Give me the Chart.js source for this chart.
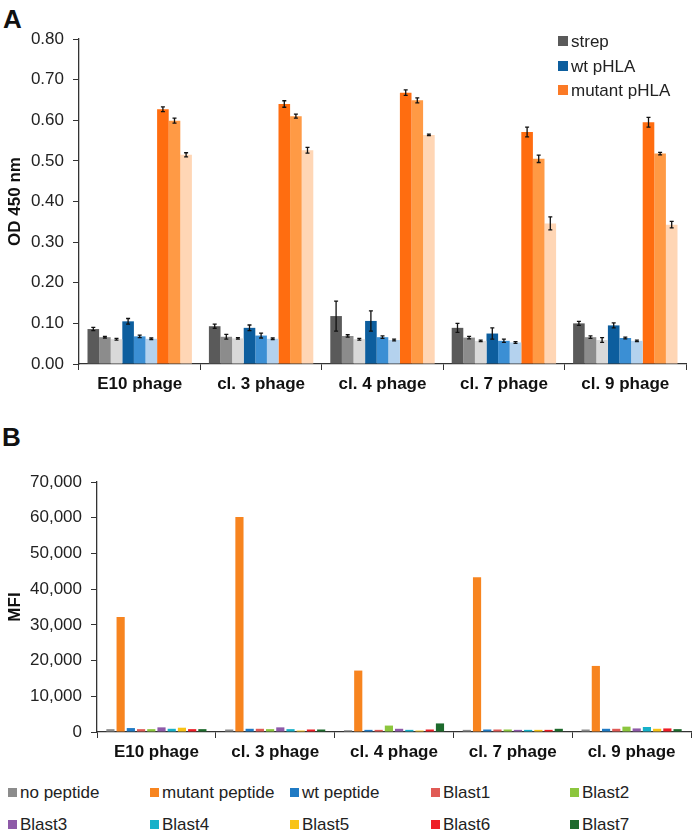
<!DOCTYPE html>
<html>
<head>
<meta charset="utf-8">
<script src="https://cdn.jsdelivr.net/npm/chart.js@4.4.0/dist/chart.umd.min.js"></script>
<style>
  body { margin: 0; background: #fff; font-family: "Liberation Sans", Arial, sans-serif; }
  #wrap { position: relative; width: 693px; height: 836px; overflow: hidden; }
  .box { position: absolute; left: 0; width: 693px; }
  .tag { position: absolute; font-weight: bold; font-size: 26px; color: #111; line-height: 1; }
  .leg { position: absolute; font-size: 17px; color: #222; line-height: 20px; }
  .leg .it { position: absolute; white-space: nowrap; }
  .leg .sq { display: inline-block; width: 9px; height: 9px; margin-right: 3px; vertical-align: 1px; }
</style>
</head>
<body>
<div id="wrap">
  <div class="tag" style="left:3px;top:6px">A</div>
  <div class="tag" style="left:2px;top:424px">B</div>
  <div class="box" style="top:0;height:400px"><canvas id="cA"></canvas></div>
  <div class="box" style="top:400px;height:380px"><canvas id="cB"></canvas></div>
  <div class="leg" id="legA" style="left:558px;top:32px"></div>
  <div class="leg" id="legB" style="left:0;top:783px"></div>
</div>
<script>
// ---- Daten Panel A (OD 450 nm) ----
var groups = ['E10 phage', 'cl. 3 phage', 'cl. 4 phage', 'cl. 7 phage', 'cl. 9 phage'];

var strep1 = [0.086, 0.093, 0.118, 0.089, 0.100];
var strep2 = [0.066, 0.067, 0.069, 0.065, 0.066];
var strep3 = [0.061, 0.063, 0.061, 0.057, 0.059];
var wt1 = [0.105, 0.089, 0.106, 0.075, 0.095];
var wt2 = [0.068, 0.070, 0.066, 0.057, 0.064];
var wt3 = [0.062, 0.062, 0.059, 0.053, 0.057];
var mut1 = [0.627, 0.640, 0.668, 0.571, 0.595];
var mut2 = [0.599, 0.610, 0.649, 0.505, 0.518];
var mut3 = [0.515, 0.526, 0.564, 0.346, 0.343];

var strep1Err = [0.004, 0.005, 0.037, 0.011, 0.005];
var strep2Err = [0.002, 0.006, 0.003, 0.003, 0.003];
var strep3Err = [0.002, 0.002, 0.002, 0.002, 0.006];
var wt1Err = [0.007, 0.007, 0.025, 0.014, 0.006];
var wt2Err = [0.003, 0.006, 0.003, 0.004, 0.002];
var wt3Err = [0.002, 0.002, 0.002, 0.002, 0.002];
var mut1Err = [0.006, 0.008, 0.007, 0.012, 0.012];
var mut2Err = [0.006, 0.005, 0.006, 0.009, 0.003];
var mut3Err = [0.005, 0.007, 0.002, 0.016, 0.008];

var yTicksA = { min: 0, max: 0.8, step: 0.1 };

// ---- Daten Panel B (MFI) ----
var noPeptide = [800, 700, 500, 600, 700];
var mutantPeptide = [32200, 60200, 17200, 43300, 18500];
var wtPeptide = [1100, 900, 600, 700, 900];
var blast1 = [800, 900, 600, 700, 900];
var blast2 = [800, 800, 1800, 700, 1500];
var blast3 = [1300, 1300, 900, 600, 1000];
var blast4 = [900, 800, 600, 600, 1400];
var blast5 = [1200, 400, 400, 600, 900];
var blast6 = [800, 700, 700, 600, 1000];
var blast7 = [800, 700, 2400, 900, 800];

var yTicksB = { min: 0, max: 70000, step: 10000 };

var AX = '#333';
var FONT = '"Liberation Sans", Arial, sans-serif';

// Fehlerbalken zeichnen (Datensätze mit .err)
var errorBars = {
  id: 'errorBars',
  afterDatasetsDraw: function (chart) {
    var ctx = chart.ctx, y = chart.scales.y;
    ctx.save();
    ctx.strokeStyle = '#111';
    ctx.lineWidth = 1.3;
    chart.data.datasets.forEach(function (ds, i) {
      if (!ds.err) return;
      chart.getDatasetMeta(i).data.forEach(function (bar, j) {
        var v = ds.data[j], e = ds.err[j];
        var top = y.getPixelForValue(v + e), bot = y.getPixelForValue(v - e);
        ctx.beginPath();
        ctx.moveTo(bar.x, top); ctx.lineTo(bar.x, bot);
        ctx.moveTo(bar.x - 2, top); ctx.lineTo(bar.x + 2, top);
        ctx.moveTo(bar.x - 2, bot); ctx.lineTo(bar.x + 2, bot);
        ctx.stroke();
      });
    });
    ctx.restore();
  }
};

function axes(t, yWidth, xHeight, title, fmt) {
  return {
    x: {
      offset: true,
      grid: { display: true, drawOnChartArea: false, offset: true, tickLength: 6, color: AX },
      border: { display: true, color: AX, width: 1.3 },
      ticks: { color: '#111', padding: 4, font: { family: FONT, size: 17, weight: 'bold' } },
      afterFit: function (s) { s.height = xHeight; }
    },
    y: {
      min: t.min, max: t.max,
      grid: { display: true, drawOnChartArea: false, tickLength: 6, color: AX },
      border: { display: true, color: AX, width: 1.3 },
      ticks: { stepSize: t.step, color: '#222', padding: 9, callback: fmt,
               font: { family: FONT, size: 17 } },
      title: { display: true, text: title, color: '#111', padding: { top: 5, bottom: 0 },
               font: { family: FONT, size: 17, weight: 'bold' } },
      afterFit: function (s) { s.width = yWidth; }
    }
  };
}

function bar(label, data, color, err) {
  return { label: label, data: data, backgroundColor: color, err: err,
           categoryPercentage: 0.86, barPercentage: 1.0 };
}

var dsA = [
  bar('strep', strep1, '#5a5a5a', strep1Err),
  bar('strep 2', strep2, '#8c8c8c', strep2Err),
  bar('strep 3', strep3, '#d9d9d9', strep3Err),
  bar('wt pHLA', wt1, '#0d5e9e', wt1Err),
  bar('wt pHLA 2', wt2, '#3b8fd4', wt2Err),
  bar('wt pHLA 3', wt3, '#b4d2ee', wt3Err),
  bar('mutant pHLA', mut1, '#ff6d10', mut1Err),
  bar('mutant pHLA 2', mut2, '#ff9a45', mut2Err),
  bar('mutant pHLA 3', mut3, '#ffd6b5', mut3Err)
];

var chartA = new Chart(document.getElementById('cA'), {
  type: 'bar',
  data: { labels: groups, datasets: dsA },
  options: {
    responsive: true, maintainAspectRatio: false, animation: false,
    layout: { padding: { left: 0, right: 7, top: 39, bottom: 0 } },
    plugins: { legend: { display: false }, tooltip: { enabled: false } },
    scales: axes(yTicksA, 79, 36, 'OD 450 nm', function (v) { return v.toFixed(2); })
  },
  plugins: [errorBars]
});

var colsB = ['#8c8c8c', '#f7841f', '#1f7ac4', '#e05a55', '#8cc63e', '#8e5aa8', '#16b1c9', '#f8c316', '#ee1c25', '#1d6a2c'];
var namesB = ['no peptide', 'mutant peptide', 'wt peptide', 'Blast1', 'Blast2', 'Blast3', 'Blast4', 'Blast5', 'Blast6', 'Blast7'];
var seriesB = [noPeptide, mutantPeptide, wtPeptide, blast1, blast2, blast3, blast4, blast5, blast6, blast7];

var dsB = seriesB.map(function (d, i) {
  return { label: namesB[i], data: d, backgroundColor: colsB[i],
           categoryPercentage: 0.86, barPercentage: 0.8 };
});

var chartB = new Chart(document.getElementById('cB'), {
  type: 'bar',
  data: { labels: groups, datasets: dsB },
  options: {
    responsive: true, maintainAspectRatio: false, animation: false,
    layout: { padding: { left: 0, right: 2, top: 82, bottom: 0 } },
    plugins: { legend: { display: false }, tooltip: { enabled: false } },
    scales: axes(yTicksB, 97, 48, 'MFI', function (v) { return v.toLocaleString('en-US'); })
  }
});

// HTML-Legenden
var legA = document.getElementById('legA');
[0, 3, 6].forEach(function (k, r) {
  var ds = dsA[k];
  legA.innerHTML += '<div class="it" style="left:0;top:' + (r * 24.5) + 'px">' +
    '<span class="sq" style="background:' + (k === 6 ? '#fb7a26' : ds.backgroundColor) + ';width:10px;height:10px"></span>' + ds.label + '</div>';
});
var legB = document.getElementById('legB');
var colX = [8, 150, 290, 431, 570];
namesB.forEach(function (n, i) {
  legB.innerHTML += '<div class="it" style="left:' + colX[i % 5] + 'px;top:' + (Math.floor(i / 5) * 32) + 'px">' +
    '<span class="sq" style="background:' + colsB[i] + '"></span>' + n + '</div>';
});
</script>
</body>
</html>
